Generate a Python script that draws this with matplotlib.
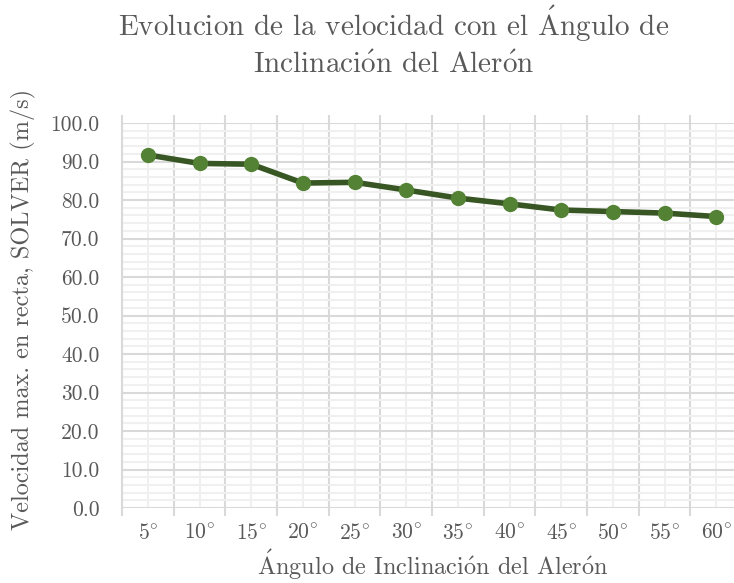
import matplotlib
matplotlib.use("Agg")
import matplotlib.pyplot as plt
from matplotlib.ticker import MultipleLocator, FixedLocator

# Wing tilt angle (degrees) and max straight-line speed from SOLVER (m/s)
angles = [5, 10, 15, 20, 25, 30, 35, 40, 45, 50, 55, 60]
velocity = [91.7, 89.5, 89.3, 84.4, 84.6, 82.6, 80.5, 79.0, 77.4, 77.0, 76.6, 75.7]
angle_labels = [f"{a}$^{{\\circ}}$" for a in angles]
y_ticks = [0, 10, 20, 30, 40, 50, 60, 70, 80, 90, 100]

plt.rcParams.update({
    "font.family": "cmr10",
    "mathtext.fontset": "cm",
    "axes.formatter.use_mathtext": True,
})

TEXT = "#595959"
MAJOR = "#d9d9d9"
MINOR = "#f0f0f0"
W, H = 734, 583

fig = plt.figure(figsize=(W / 100, H / 100), dpi=100)
ax = fig.add_axes([122 / W, (H - 508) / H, 620 / W, 385 / H])

x = list(range(len(angles)))
ax.plot(x, velocity, color="#375623", lw=4, solid_capstyle="round",
        marker="o", ms=10, mfc="#548235", mec="#548235", zorder=3)

ax.set_xlim(-0.5, len(angles) - 0.5)
ax.set_ylim(0, 100)

# category centres carry the labels and light lines; boundaries the darker ones
ax.set_xticks(x, angle_labels)
ax.xaxis.set_minor_locator(FixedLocator([i - 0.5 for i in range(len(angles) + 1)]))
ax.set_yticks(y_ticks, [f"{v:.1f}" for v in y_ticks])
ax.yaxis.set_minor_locator(MultipleLocator(2))

ax.set_axisbelow(True)
ax.grid(which="minor", axis="y", color=MINOR, lw=1.5)
ax.grid(which="major", axis="x", color=MINOR, lw=1.5)
ax.grid(which="minor", axis="x", color=MAJOR, lw=1.5)
ax.grid(which="major", axis="y", color=MAJOR, lw=1.5)

ax.tick_params(axis="x", which="major", length=0, pad=11, labelsize=15.5, labelcolor=TEXT)
ax.tick_params(axis="x", which="minor", length=6, width=1.5, color=MAJOR,
               direction="out", top=True, bottom=True)
ax.tick_params(axis="y", which="both", length=0, pad=16, labelsize=15.5, labelcolor=TEXT)

for s in ["top", "right", "bottom"]:
    ax.spines[s].set_visible(False)
ax.spines["left"].set_color(MAJOR)
ax.spines["left"].set_linewidth(1.5)

fig.text(394 / W, 1 - 36 / H, "Evolucion de la velocidad con el $\\mathrm{\\acute{A}}$ngulo de",
         ha="center", va="baseline", fontsize=21, color=TEXT)
fig.text(394 / W, 1 - 73 / H,
         "Inclinaci$\\mathrm{\\acute{o}}$n del Aler$\\mathrm{\\acute{o}}$n",
         ha="center", va="baseline", fontsize=21, color=TEXT)
fig.text(433 / W, 1 - 575 / H,
         "$\\mathrm{\\acute{A}}$ngulo de Inclinaci$\\mathrm{\\acute{o}}$n del Aler$\\mathrm{\\acute{o}}$n",
         ha="center", va="baseline", fontsize=17.5, color=TEXT)
fig.text(23 / W, 1 - 309 / H, "Velocidad max. en recta, SOLVER (m/s)",
         ha="center", va="center", rotation=90, fontsize=17.5, color=TEXT)

fig.savefig("out.png", dpi=100, facecolor="white")
